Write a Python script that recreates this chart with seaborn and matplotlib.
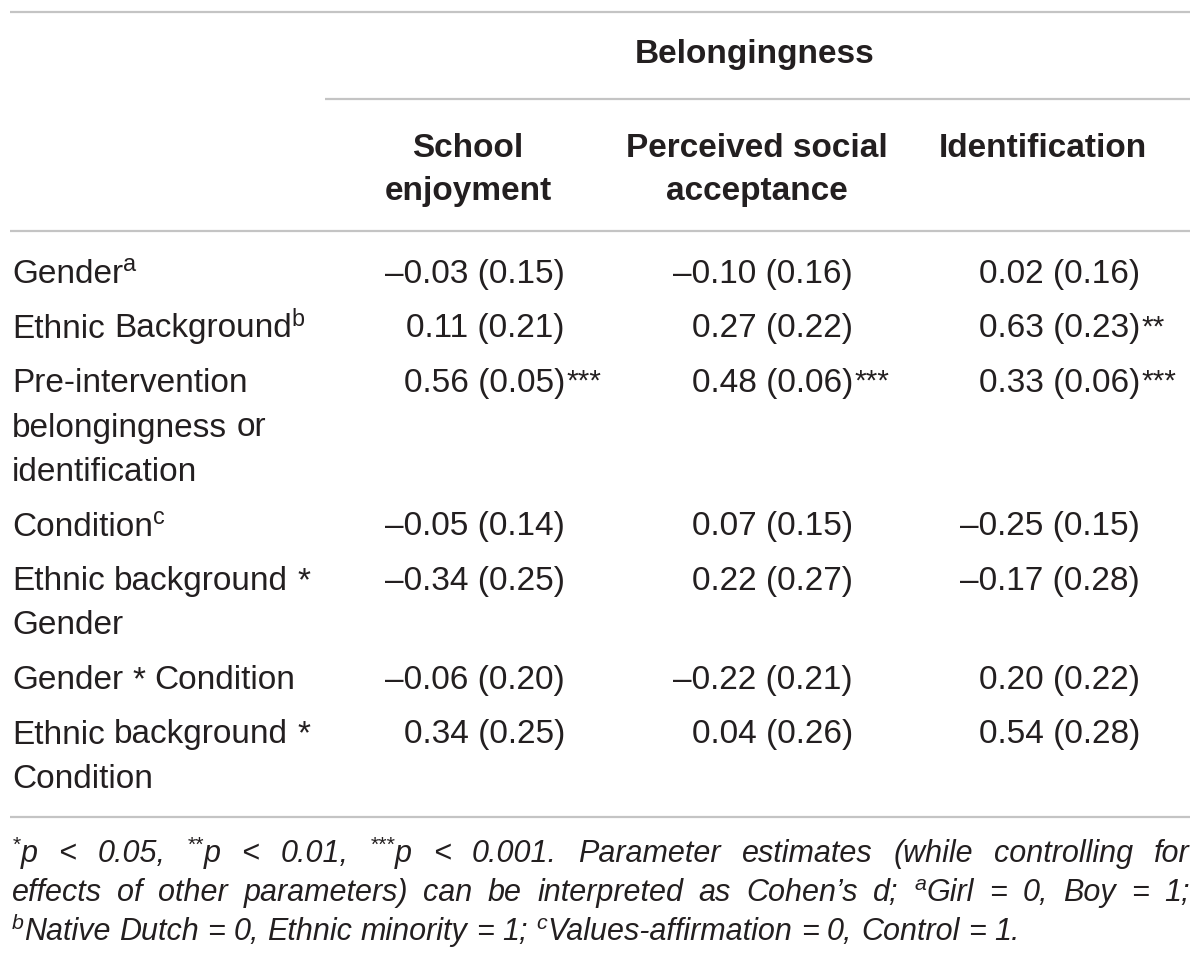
import re
import matplotlib
matplotlib.use("Agg")
import matplotlib.pyplot as plt
import seaborn as sns

# ---- table content ----
group_label = "Belongingness"
col_headers = ["School\nenjoyment", "Perceived social\nacceptance", "Identification"]
row_labels = [
    "Gender^{a}",
    "Ethnic Background^{b}",
    "Pre-intervention\nbelongingness or\nidentification",
    "Condition^{c}",
    "Ethnic background *\nGender",
    "Gender * Condition",
    "Ethnic background *\nCondition",
]
school_est = [-0.03, 0.11, 0.56, -0.05, -0.34, -0.06, 0.34]
school_se = [0.15, 0.21, 0.05, 0.14, 0.25, 0.20, 0.25]
school_sig = ["", "", "***", "", "", "", ""]
social_est = [-0.10, 0.27, 0.48, 0.07, 0.22, -0.22, 0.04]
social_se = [0.16, 0.22, 0.06, 0.15, 0.27, 0.21, 0.26]
social_sig = ["", "", "***", "", "", "", ""]
ident_est = [0.02, 0.63, 0.33, -0.25, -0.17, 0.20, 0.54]
ident_se = [0.16, 0.23, 0.06, 0.15, 0.28, 0.22, 0.28]
ident_sig = ["", "**", "***", "", "", "", ""]
footnote_lines = [
    "^{*}p < 0.05, ^{**}p < 0.01, ^{***}p < 0.001. Parameter estimates (while controlling for",
    "effects of other parameters) can be interpreted as Cohen\u2019s d; ^{a}Girl = 0, Boy = 1;",
    "^{b}Native Dutch = 0, Ethnic minority = 1; ^{c}Values-affirmation = 0, Control = 1.",
]

TEXT = "#231f20"
RULE = "#c4c4c4"
FS = 24

sns.set_theme(style="white")
plt.rcParams["font.family"] = ["Liberation Sans", "DejaVu Sans"]

fig = plt.figure(figsize=(12, 9.65), dpi=100)
ax = fig.add_axes([0, 0, 1, 1])
ax.set_xlim(0, 1200)
ax.set_ylim(965, 0)
ax.axis("off")
renderer = fig.canvas.get_renderer()


def text_width(s, **kw):
    t = ax.text(0, 0, s, **kw)
    w = t.get_window_extent(renderer).width
    t.remove()
    return w


def parse_word(word):
    parts = []
    for piece in re.split(r"(\^\{[^}]*\})", word):
        if not piece:
            continue
        if piece.startswith("^{"):
            parts.append((piece[2:-1], True))
        else:
            parts.append((piece, False))
    return parts


def draw_markup(x, y, markup, size=FS, style="normal", weight="normal", width=None):
    base = dict(fontsize=size, fontstyle=style, fontweight=weight)
    sup = dict(fontsize=size * 0.7, fontstyle=style, fontweight=weight)
    words = [parse_word(w) for w in markup.split(" ")]
    widths = []
    for parts in words:
        ws = [text_width(p, **(sup if s else base)) for p, s in parts]
        widths.append(ws)
    space = text_width("a a", **base) - text_width("aa", **base)
    if width is not None and len(words) > 1:
        gap = (width - sum(sum(w) for w in widths)) / (len(words) - 1)
    else:
        gap = space
    raise_px = size * 100 / 72 * 0.36
    cx = x
    for parts, ws in zip(words, widths):
        for (p, s), w in zip(parts, ws):
            ax.text(cx, y - raise_px if s else y, p, color=TEXT, ha="left",
                    va="baseline", **(sup if s else base))
            cx += w
        cx += gap


def fmt(v):
    return f"{v:.2f}".replace("-", "\u2013")


# ---- rules ----
ax.hlines([12, 231, 817], 10, 1190, color=RULE, lw=1.6)
ax.hlines(99, 325, 1190, color=RULE, lw=1.6)

# ---- header ----
ax.text(755, 63, group_label, ha="center", va="baseline", fontsize=FS,
        fontweight="bold", color=TEXT)
header_x = [468, 757, 1043]
for hx, h in zip(header_x, col_headers):
    for i, line in enumerate(h.split("\n")):
        ax.text(hx, 157 + 43 * i, line, ha="center", va="baseline", fontsize=FS,
                fontweight="bold", color=TEXT)

# ---- body ----
value_right = [565, 853, 1140]
columns = [(school_est, school_se, school_sig),
           (social_est, social_se, social_sig),
           (ident_est, ident_se, ident_sig)]
line_step = 44.5
row_gap = 54.5
yc = 272
for r, label in enumerate(row_labels):
    lines = label.split("\n")
    base_y = yc + 11
    for i, line in enumerate(lines):
        draw_markup(12, base_y + line_step * i, line)
    for xr, (est, se, sig) in zip(value_right, columns):
        ax.text(xr, base_y, f"{fmt(est[r])} ({se[r]:.2f})", ha="right",
                va="baseline", fontsize=FS, color=TEXT)
        if sig[r]:
            ax.text(xr + 1, base_y - 2, sig[r], ha="left", va="baseline",
                    fontsize=FS * 0.9, color=TEXT)
    yc += line_step * (len(lines) - 1) + row_gap

# ---- footnote ----
foot_y = [862, 901, 940]
for i, (fy, line) in enumerate(zip(foot_y, footnote_lines)):
    draw_markup(12, fy, line, size=22, style="italic",
                width=1178 if i < 2 else None)

fig.savefig("out.png", dpi=100, facecolor="white")
